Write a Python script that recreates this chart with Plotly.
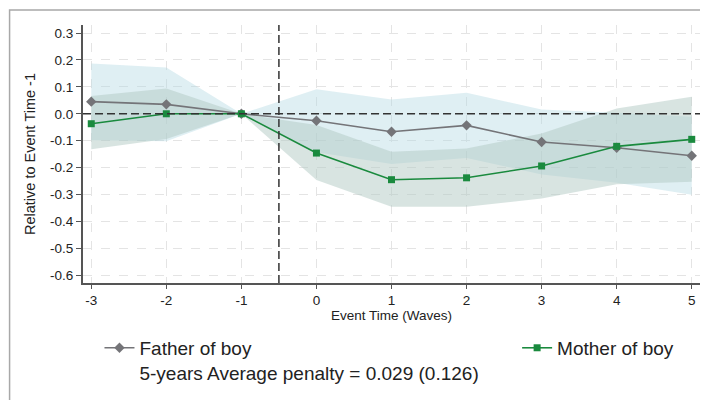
import plotly.graph_objects as go

event_time = [-3, -2, -1, 0, 1, 2, 3, 4, 5]

father_est = [0.045, 0.035, 0.0, -0.026, -0.067, -0.043, -0.105, -0.126, -0.156]
father_hi = [0.187, 0.172, 0.0, 0.091, 0.053, 0.078, 0.016, 0.004, -0.011]
father_lo = [-0.098, -0.102, 0.0, -0.143, -0.187, -0.164, -0.226, -0.256, -0.301]

mother_est = [-0.037, 0.0, 0.0, -0.146, -0.245, -0.238, -0.194, -0.121, -0.095]
mother_hi = [0.066, 0.094, 0.0, -0.042, -0.141, -0.129, -0.073, 0.020, 0.063]
mother_lo = [-0.132, -0.094, 0.0, -0.246, -0.346, -0.346, -0.315, -0.262, -0.253]

y_ticks = [0.3, 0.2, 0.1, 0.0, -0.1, -0.2, -0.3, -0.4, -0.5, -0.6]
y_tick_labels = ["0.3", "0.2", "0.1", "0.0", "-0.1", "-0.2", "-0.3", "-0.4", "-0.5", "-0.6"]
x_tick_labels = ["-3", "-2", "-1", "0", "1", "2", "3", "4", "5"]

father_label = "Father of boy<br>5-years Average penalty = 0.029 (0.126)"
mother_label = "Mother of boy"

FONT = "Liberation Sans, Arial, sans-serif"
GRAY = "#747478"
GREEN = "#1a8a3e"

fig = go.Figure()

# CI bands
fig.add_trace(go.Scatter(
    x=event_time + event_time[::-1],
    y=father_hi + father_lo[::-1],
    fill="toself", fillcolor="rgba(176,214,224,0.4)",
    line=dict(width=0), mode="lines", showlegend=False, hoverinfo="skip"))
fig.add_trace(go.Scatter(
    x=event_time + event_time[::-1],
    y=mother_hi + mother_lo[::-1],
    fill="toself", fillcolor="rgba(177,201,195,0.5)",
    line=dict(width=0), mode="lines", showlegend=False, hoverinfo="skip"))

# Lines
fig.add_trace(go.Scatter(
    x=event_time, y=father_est, mode="lines+markers", name=father_label,
    legend="legend",
    line=dict(color=GRAY, width=1.6),
    marker=dict(symbol="diamond", size=8, color=GRAY)))
fig.add_trace(go.Scatter(
    x=event_time, y=mother_est, mode="lines+markers", name=mother_label,
    legend="legend2",
    line=dict(color=GREEN, width=1.6),
    marker=dict(symbol="square", size=7, color=GREEN)))

# reference lines
fig.add_shape(type="line", xref="paper", yref="y", x0=0, x1=1, y0=0, y1=0,
              line=dict(color="#333333", width=1.5, dash="8px,4px"))
fig.add_shape(type="line", xref="x", yref="paper", x0=-0.5, x1=-0.5, y0=0, y1=1,
              line=dict(color="#333333", width=1.5, dash="8px,4px"))

# outer frame
fig.add_shape(type="rect", xref="paper", yref="paper",
              x0=-0.119, x1=1.05, y0=-0.5, y1=1.058,
              line=dict(color="#a8a8a8", width=1.5), fillcolor="rgba(0,0,0,0)", layer="below")

legend_common = dict(orientation="v", xanchor="left", yanchor="top", valign="top",
                     font=dict(size=19, family=FONT, color="#222222"),
                     bgcolor="rgba(0,0,0,0)", itemwidth=30)

fig.update_layout(
    width=700, height=392,
    margin=dict(l=75, r=8, t=17, b=117, autoexpand=False),
    paper_bgcolor="white", plot_bgcolor="white",
    font=dict(family=FONT, color="#222222", size=13.5),
    legend=dict(x=0.0267, y=-0.178, **legend_common),
    legend2=dict(x=0.7036, y=-0.178, **legend_common),
    xaxis=dict(range=[-3.11, 5.11], tickmode="array", tickvals=event_time, ticktext=x_tick_labels,
               showgrid=True, gridcolor="#e4e4e4", griddash="dash", gridwidth=1,
               showline=True, linecolor="#555555", linewidth=2,
               ticks="outside", ticklen=4, tickcolor="#555555", tickwidth=1.2,
               zeroline=False, tickfont=dict(size=13.5), automargin=False,
               title=dict(text="Event Time (Waves)", font=dict(size=13.5), standoff=1)),
    yaxis=dict(range=[-0.629, 0.33], tickmode="array", tickvals=y_ticks, ticktext=y_tick_labels,
               showgrid=True, gridcolor="#e4e4e4", griddash="dash", gridwidth=1,
               showline=True, linecolor="#555555", linewidth=2,
               ticks="outside", ticklen=5, tickcolor="#555555", tickwidth=1.2,
               zeroline=False, tickfont=dict(size=13.5), automargin=False,
               title=dict(text="Relative to Event Time -1", font=dict(size=14.5), standoff=11)),
)

fig.write_html("out.html")
